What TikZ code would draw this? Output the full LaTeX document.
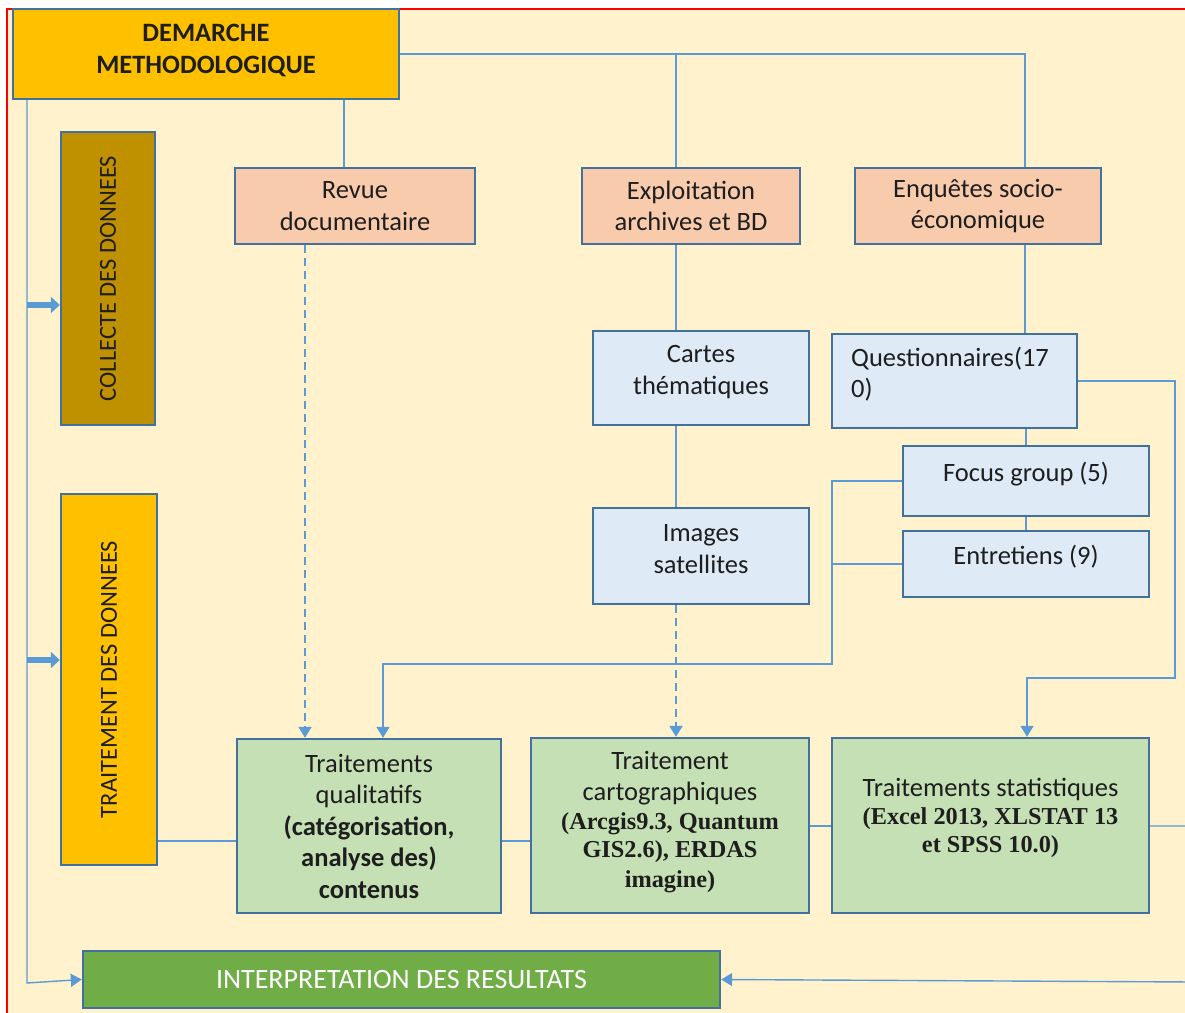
\documentclass[tikz,border=0pt]{standalone}
\usepackage{fontspec}
\setmainfont{Carlito}
\newfontfamily\tnr{Liberation Serif}
\usetikzlibrary{arrows.meta}

\definecolor{cream}{HTML}{FFF2CC}
\definecolor{frame}{HTML}{FF0000}
\definecolor{gold}{HTML}{FFC000}
\definecolor{darkgold}{HTML}{BF9000}
\definecolor{peach}{HTML}{F8CBAD}
\definecolor{paleblue}{HTML}{DEEBF7}
\definecolor{palegreen}{HTML}{C5E0B4}
\definecolor{leaf}{HTML}{70AD47}
\definecolor{boxline}{HTML}{41719C}
\definecolor{conn}{HTML}{5B9BD5}
\definecolor{ink}{HTML}{1E1E1E}

\newcommand{\calfont}{\fontsize{26.5}{31.5}\selectfont}
\newcommand{\tnrfont}{\tnr\bfseries\fontsize{24.3}{29}\selectfont}

\begin{document}
\begin{tikzpicture}[x=1pt,y=-1pt,
  box/.style={draw=boxline, line width=2.4pt, inner sep=0pt, align=center,
    text=ink, font=\calfont},
  txt/.style={inner sep=0pt, align=center, text=ink, font=\calfont},
  link/.style={draw=conn, line width=1.4pt},
  tip/.style={-{Triangle[length=11pt,width=13pt]}},
  dashlink/.style={draw=conn, line width=2pt, dash pattern=on 8pt off 5pt},
  blockarrow/.style={draw=conn, line width=6pt,
    -{Triangle[length=9pt,width=16pt]}}
]
\useasboundingbox (0,0) rectangle (1185,1012);
\clip (0,0) rectangle (1185,1012);

% page background and red frame
\fill[cream] (7,9) rectangle (1190,1020);
\draw[frame, line width=2pt] (7,1020) -- (7,9) -- (1190,9);

% ---------- boxes ----------
\node[box, fill=gold, minimum width=386, minimum height=90] (dem) at (206,54) {};
\node[txt, font=\calfont\bfseries] (demtxt) at (206,50.5) {DEMARCHE\\METHODOLOGIQUE};

% vertical phase boxes (rotated: their north side faces left, south faces right)
\node[box, fill=darkgold, rotate=90, minimum width=293, minimum height=94,
  font=\fontsize{24.5}{28}\selectfont] (coll) at (108,278.5) {COLLECTE DES DONNEES};
\node[box, fill=gold, rotate=90, minimum width=371, minimum height=96,
  font=\fontsize{24.5}{28}\selectfont] (trait) at (109,679.5) {TRAITEMENT DES DONNEES};

\node[box, fill=peach, minimum width=240, minimum height=76] (revue) at (355,206)
  {Revue\\documentaire};
\node[box, fill=peach, minimum width=218, minimum height=76] (expl) at (691,206)
  {Exploitation\\archives et BD};
\node[box, fill=peach, minimum width=246, minimum height=76] (enq) at (978,206)
  {Enquêtes socio-\\économique};

\node[box, fill=paleblue, minimum width=216, minimum height=94] (cartes) at (701,378) {};
\node[txt] (cartestxt) at (701,372) {Cartes\\thématiques};
\node[box, fill=paleblue, minimum width=216, minimum height=96] (images) at (701,556) {};
\node[txt] (imagestxt) at (701,549) {Images\\satellites};

\node[box, fill=paleblue, minimum width=245, minimum height=94] (quest) at (954.5,381) {};
\node[txt, align=left, anchor=west] (questtxt) at (851,374) {Questionnaires(17\\0)};
\node[box, fill=paleblue, minimum width=246, minimum height=70] (focus) at (1026,481) {};
\node[txt] (focustxt) at (1026,474) {Focus group (5)};
\node[box, fill=paleblue, minimum width=246, minimum height=66] (entr) at (1026,564) {};
\node[txt] (entrtxt) at (1026,557) {Entretiens (9)};

\node[box, fill=palegreen, minimum width=264, minimum height=174] (qual) at (369,826)
  {Traitements\\qualitatifs\\\textbf{(catégorisation,}\\\textbf{analyse des)}\\\textbf{contenus}};
\node[box, fill=palegreen, minimum width=278, minimum height=175] (carto) at (670,825.5) {};
\node[txt] (cartotxt) at (670,822)
  {Traitement\\cartographiques\\[-3pt]{\tnrfont (Arcgis9.3, Quantum}\\[-3pt]{\tnrfont GIS2.6), ERDAS}\\[-2pt]{\tnrfont imagine)}};
\node[box, fill=palegreen, minimum width=317, minimum height=175] (stat) at (990.5,825.5) {};
\node[txt] (stattxt) at (990.5,818)
  {Traitements statistiques\\[-4pt]{\tnrfont (Excel 2013, XLSTAT 13}\\[-3pt]{\tnrfont et SPSS 10.0)}};

\node[box, fill=leaf, text=white, minimum width=637, minimum height=57,
  font=\fontsize{28}{32}\selectfont] (interp) at (401.5,979.5) {INTERPRETATION DES RESULTATS};

% ---------- routing points ----------
\coordinate (lrail) at (27,983);
\coordinate (top) at (1025,54);
\coordinate (spine) at (676,54);
\coordinate (rv) at (344,0);
\coordinate (hq) at (0,841);
\coordinate (hs) at (0,826);
\coordinate (mq) at (832,664);
\coordinate (aq) at (383,664);
\coordinate (qr) at (1175,678);
\coordinate (sa) at (1027,678);
\coordinate (rcorner) at (1195,826);
\coordinate (rlow) at (1195,982);

% ---------- connectors ----------
\draw[link] (dem.east) -- (top) -- (top |- enq.north);
\draw[link] (spine) -- (spine |- expl.north);
\draw[link] (dem.south -| rv) -- (revue.north -| rv);
\draw[link, tip] (dem.south -| lrail) -- (lrail) -- (interp.west);

\draw[blockarrow] (27,305) -- (coll.north |- 0,305);
\draw[blockarrow] (27,660) -- (trait.north |- 0,660);

\draw[link] (spine |- expl.south) -- (spine |- cartes.north);
\draw[link] (spine |- cartes.south) -- (spine |- images.north);
\draw[link] (top |- enq.south) -- (top |- quest.north);
\draw[link] (focus.north |- quest.south) -- (focus.north);
\draw[link] (focus.south) -- (entr.north);

\draw[dashlink, tip] (revue.south -| 305,0) -- (qual.north -| 305,0);
\draw[dashlink, tip] (spine |- images.south) -- (spine |- carto.north);

\draw[link, tip] (focus.west) -| (mq) -- (aq) -- (aq |- qual.north);
\draw[link] (entr.west) -- (entr.west -| mq);
\draw[link, tip] (quest.east) -| (qr) -- (sa) -- (sa |- stat.north);

\draw[link] (trait.south |- hq) -- (qual.west |- hq);
\draw[link] (qual.east |- hq) -- (carto.west |- hq);
\draw[link] (carto.east |- hs) -- (stat.west |- hs);
\draw[link, tip] (stat.east |- hs) -- (rcorner) -- (rlow) -- (interp.east);
\end{tikzpicture}
\end{document}
